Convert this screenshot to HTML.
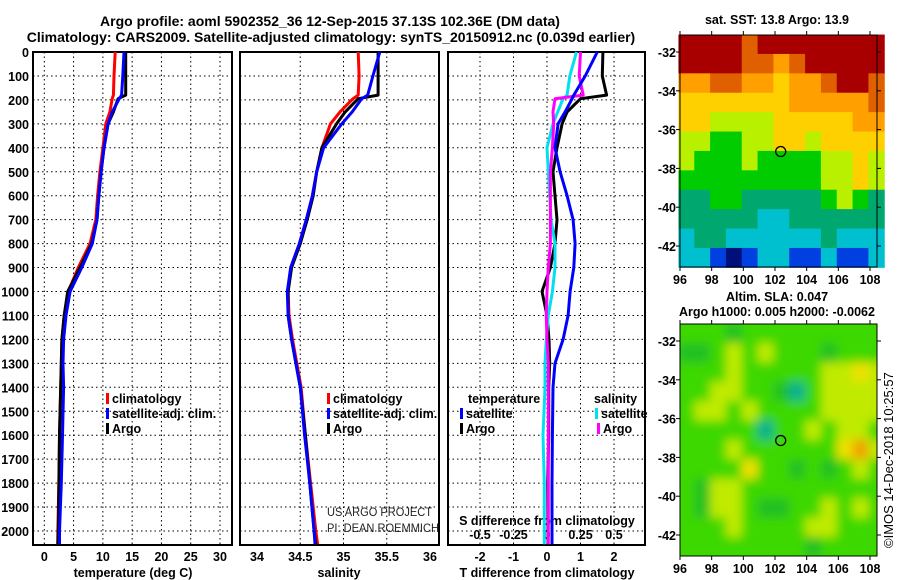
<!DOCTYPE html>
<html><head><meta charset="utf-8"><style>
html,body{margin:0;padding:0;background:#fff;}
svg{display:block;font-family:"Liberation Sans",Arial,sans-serif;}
.b{font-weight:bold;font-size:12.5px;}
.t{font-weight:bold;font-size:14px;}
</style></head><body>
<svg id="c" width="900" height="580" viewBox="0 0 900 580" xmlns="http://www.w3.org/2000/svg">
<defs>
<filter id="blur" x="-0.1" y="-0.1" width="1.2" height="1.2"><feGaussianBlur stdDeviation="5"/></filter>
<clipPath id="m2clip"><rect x="680" y="324" width="197" height="232"/></clipPath>
</defs>
<text class="t" x="330" y="26" text-anchor="middle">Argo profile: aoml 5902352_36 12-Sep-2015 37.13S 102.36E (DM data)</text>
<text class="t" x="331" y="42" text-anchor="middle">Climatology: CARS2009. Satellite-adjusted climatology: synTS_20150912.nc (0.039d earlier)</text>
<text class="b" x="777" y="24" text-anchor="middle">sat. SST: 13.8 Argo: 13.9</text>
<text class="b" x="777" y="301" text-anchor="middle">Altim. SLA: 0.047</text>
<text class="b" x="777" y="316" text-anchor="middle">Argo h1000: 0.005 h2000: -0.0062</text>
<text x="893" y="548" transform="rotate(-90 893 548)" font-size="13">©IMOS 14-Dec-2018 10:25:57</text>
<g id="g"></g>
</svg>
<script>
// depth levels (m)
const depths = [0,100,180,195,250,300,400,500,600,700,800,900,1000,1100,1200,1300,1400,1600,1800,2000,2055];
// temperature (deg C)
const tempArgo = [13.9,13.9,13.9,12.6,11.8,10.9,10.2,9.7,9.3,9.0,8.1,6.1,4.0,3.4,3.0,2.9,2.8,2.6,2.5,2.4,2.3];
const tempClim = [12.1,11.9,11.8,11.6,11.2,10.5,10.0,9.5,9.1,8.8,7.8,5.8,4.1,3.4,3.0,2.9,2.8,2.6,2.5,2.3,2.3];
const tempSat  = [13.6,13.4,13.2,12.8,11.6,10.9,10.2,9.7,9.3,9.0,8.2,6.4,4.4,3.7,3.3,3.2,3.3,3.1,2.9,2.6,2.6];
// salinity
const salArgo = [35.40,35.40,35.40,35.17,35.02,34.92,34.75,34.69,34.65,34.58,34.50,34.40,34.36,34.36,34.40,34.45,34.50,34.56,34.61,34.66,34.68];
const salClim = [35.17,35.18,35.17,35.11,34.96,34.85,34.75,34.69,34.64,34.57,34.49,34.39,34.36,34.37,34.41,34.46,34.51,34.56,34.62,34.68,34.70];
const salSat  = [35.42,35.34,35.28,35.21,35.10,34.98,34.77,34.69,34.64,34.57,34.49,34.39,34.35,34.36,34.40,34.45,34.50,34.55,34.61,34.66,34.67];
// differences from climatology
const dTArgo = [1.67,1.65,1.78,1.0,0.6,0.45,0.30,0.18,0.24,0.30,0.24,0.10,-0.15,0.0,0.06,0.08,0.05,0.05,0.02,0.03,0.03];
const dTSat  = [1.50,1.14,0.80,0.75,0.54,0.33,0.24,0.39,0.60,0.78,0.84,0.80,0.69,0.63,0.48,0.24,0.18,0.16,0.15,0.15,0.15];
const dSArgo = [0.25,0.24,0.27,0.06,0.045,0.05,0.04,0.025,0.025,0.025,0.025,0.01,0.0,-0.005,0.0,0.01,0.01,0.01,0.01,0.01,0.01];
const dSSat  = [0.22,0.17,0.15,0.12,0.08,0.045,0.0,0.01,0.02,0.03,0.06,0.06,0.04,0.01,-0.005,-0.015,-0.015,-0.03,-0.02,-0.02,-0.02];
const depthTicks = [0,100,200,300,400,500,600,700,800,900,1000,1100,1200,1300,1400,1500,1600,1700,1800,1900,2000];
const tempTicks = [0,5,10,15,20,25,30];
const salTicks = [34,34.5,35,35.5,36];
const dTTicks = [-2,-1,0,1,2];
const dSTicks = [-0.5,-0.25,0,0.25,0.5];
// SST map classes (rows north->south, 1 deg), 0=coldest..9=warmest
const sstGrid = [
[9,9,9,9,8,9,9,9,9,9,9,9,9],
[9,9,9,9,8,8,7,8,9,9,9,9,9],
[7,7,8,8,7,7,6,7,7,8,9,9,8],
[6,6,6,6,6,6,6,7,7,7,7,7,8],
[6,6,5,5,5,5,6,6,6,6,6,7,7],
[5,5,4,4,5,5,6,6,5,6,6,6,6],
[5,4,4,4,5,4,4,4,4,5,5,6,5],
[4,4,4,4,4,4,4,4,4,5,5,6,5],
[3,3,4,4,3,3,3,3,3,4,5,4,3],
[3,3,3,3,3,2,2,3,3,3,3,3,3],
[2,3,3,2,2,2,2,2,2,3,2,2,2],
[2,2,1,0,1,2,2,1,1,2,1,1,2]];
const slaGrid = [
[2,2,2,1,2,2,2,2,2,2,2,2,2],
[1,1,2,3,2,3,2,2,2,1,2,2,2],
[2,2,2,3,2,2,2,2,2,3,3,4,3],
[2,2,3,3,2,2,1,0,2,3,3,3,3],
[2,3,3,2,3,2,2,2,2,3,3,3,3],
[2,2,2,2,2,0,2,2,3,2,3,3,2],
[2,2,2,3,2,2,2,2,2,2,4,5,3],
[2,2,2,2,4,2,2,1,2,1,2,3,2],
[2,1,3,3,2,2,2,2,2,2,2,2,2],
[2,1,3,3,2,1,1,2,2,3,2,3,2],
[2,2,2,3,2,2,2,2,3,3,2,2,2],
[2,2,2,2,2,2,2,2,1,2,2,2,2]];
const mapLatTicks = [-32,-34,-36,-38,-40,-42];
const mapLonTicks = [96,98,100,102,104,106,108];
const argoLon = 102.36, argoLat = -37.13;

const NS='http://www.w3.org/2000/svg';
const G=document.getElementById('g');
function el(tag,attrs,parent){const e=document.createElementNS(NS,tag);for(const k in attrs)e.setAttribute(k,attrs[k]);(parent||G).appendChild(e);return e;}
const TOP=52, BOT=545;
const yD = d => TOP + d*0.2395;
function lin(d0,d1,p0,p1){return v=>p0+(v-d0)*(p1-p0)/(d1-d0);}
const panels=[
 {x0:33,x1:232,sx:lin(0,30,44.3,220),name:'temperature'},
 {x0:240,x1:439,sx:lin(34,36,257,430),name:'salinity'},
 {x0:448,x1:645,sx:lin(-2,2,480,614),name:'difference'}];
const sS = lin(-0.5,0.5,480,614);

panels.forEach((p,i)=>{
  const grp=el('g',{});
  
  
  depthTicks.forEach(d=>{ if(d>0){const l=el('line',{x1:p.x0,x2:p.x1,y1:yD(d),y2:yD(d),stroke:'#000','stroke-width':1,'stroke-dasharray':'1.5 3'},grp);
     }});
  const xt = i==0?tempTicks:(i==1?salTicks:dTTicks);
  xt.forEach(v=>{const x=p.sx(v); if(!(i==1&&v==34)&&!(i==1&&v==36)){const l=el('line',{x1:x,x2:x,y1:TOP,y2:BOT,stroke:'#000','stroke-width':1,'stroke-dasharray':'1.5 3'},grp);
     }
    const t=el('text',{x:x,y:561,'text-anchor':'middle','class':'b'},grp); t.textContent=v;
     });
  const r=el('rect',{x:p.x0,y:TOP,width:p.x1-p.x0,height:BOT-TOP,fill:'none',stroke:'#000','stroke-width':2},grp);
   
});
depthTicks.forEach(d=>{const t=el('text',{x:29,y:yD(d)+5,'text-anchor':'end','class':'b'});t.textContent=d;
   });
[['temperature (deg C)',133],['salinity',339],['T difference from climatology',547]].forEach(a=>{
  const t=el('text',{x:a[1],y:577,'text-anchor':'middle','class':'b'});t.textContent=a[0];
   });
dSTicks.forEach(v=>{const t=el('text',{x:sS(v),y:539,'text-anchor':'middle','class':'b'});t.textContent=v;
   });
{const t=el('text',{x:547,y:525,'text-anchor':'middle','class':'b'});t.textContent='S difference from climatology';
  }

function line(vals,sx,color,name){
  const pts=vals.map((v,k)=>sx(v).toFixed(1)+','+yD(depths[k]).toFixed(1)).join(' ');
  const l=el('polyline',{points:pts,fill:'none',stroke:color,'stroke-width':3,'stroke-linejoin':'round'});
   
}
line(tempClim,panels[0].sx,'#ff0000','temp-climatology-line');
line(tempArgo,panels[0].sx,'#000','temp-argo-line');
line(tempSat,panels[0].sx,'#0000ff','temp-satellite-line');
line(salClim,panels[1].sx,'#ff0000','sal-climatology-line');
line(salArgo,panels[1].sx,'#000','sal-argo-line');
line(salSat,panels[1].sx,'#0000ff','sal-satellite-line');
line(dTArgo,panels[2].sx,'#000','tdiff-argo-line');
line(dSSat,sS,'#00e0f0','sdiff-satellite-line');
line(dSArgo,sS,'#ff00ff','sdiff-argo-line');
line(dTSat,panels[2].sx,'#0000ff','tdiff-satellite-line');

function legend(x,y,color,label,name,fs){
  const g=el('g',{});  
  if(color) el('rect',{x:x,y:y-10,width:3,height:11,fill:color},g);
  const t=el('text',{x:x+(color?6:0),y:y,'class':'b'},g); t.textContent=label;
  if(fs) t.setAttribute('font-size',fs);
}
[[0,'#ff0000','climatology'],[1,'#0000ff','satellite-adj. clim.'],[2,'#000','Argo']].forEach(a=>{
  legend(106,403+a[0]*15,a[1],a[2],'temp-legend-entry');
  legend(327,403+a[0]*15,a[1],a[2],'sal-legend-entry');
});
legend(468,403,null,'temperature','diff-legend-temp-header');
legend(460,418,'#0000ff','satellite','diff-legend-entry');
legend(460,433,'#000','Argo','diff-legend-entry');
legend(594,403,null,'salinity','diff-legend-sal-header');
legend(595,418,'#00e0f0','satellite','diff-legend-entry','11.5px');
legend(597,433,'#ff00ff','Argo','diff-legend-entry');
[['US ARGO PROJECT',516],['PI: DEAN ROEMMICH',532]].forEach(a=>{
  const t=el('text',{x:327,y:a[1],'font-size':12,'fill':'#222','textLength':a[0].length>15?112:105,'lengthAdjust':'spacingAndGlyphs'});t.textContent=a[0];
   });

// maps
const sstColors=['#00107a','#0040e0','#00c0d0','#00a870','#00cc00','#b8f000','#ffd000','#ffa000','#e06000','#a80000'];
const slaColors=['#00b090','#22c020','#3cd800','#c0ea00','#f0e000','#f0a000'];
function drawMap(y0,grid,colors,name,blur){
  const x0=680,lonS=lin(96,108,680,870),latS=lin(-32,-42,y0+17,y0+211);
  const W=197,H=232;
  const g=el('g',blur?{'clip-path':'url(#m2clip)'}:{});  
  const inner=el('g',blur?{filter:'url(#blur)'}:{},g);
  if(blur) el('rect',{x:x0-20,y:y0-20,width:W+40,height:H+40,fill:colors[2]},inner);
  grid.forEach((row,r)=>row.forEach((v,c)=>{
    const cx=lonS(95.9+c),cy=latS(-31.1-r);
    const rc=el('rect',{x:cx,y:cy,width:lonS(96.9+c)-cx+0.5,height:latS(-32.1-r)-cy+0.5,fill:colors[v]},inner);
     
  }));
  el('rect',{x:x0,y:y0,width:W,height:H,fill:'none',stroke:'#000','stroke-width':1});
  mapLatTicks.forEach(v=>{const y=latS(v);
    el('line',{x1:x0,x2:x0-4,y1:y,y2:y,stroke:'#000'}); el('line',{x1:x0+W,x2:x0+W+4,y1:y,y2:y,stroke:'#000'});
    const t=el('text',{x:676,y:y+5,'text-anchor':'end','class':'b'});t.textContent=v;
     });
  mapLonTicks.forEach(v=>{const x=lonS(v);
    el('line',{x1:x,x2:x,y1:y0+H,y2:y0+H+4,stroke:'#000'}); el('line',{x1:x,x2:x,y1:y0,y2:y0-4,stroke:'#000'});
    const t=el('text',{x:x,y:y0+H+17,'text-anchor':'middle','class':'b'});t.textContent=v;
     });
  const m=el('circle',{cx:lonS(argoLon),cy:latS(argoLat),r:5,fill:'none',stroke:'#000','stroke-width':1.3});
   
}
drawMap(35,sstGrid,sstColors,'sst-map',false);
drawMap(324,slaGrid,slaColors,'sla-map',true);
</script>
</body></html>
